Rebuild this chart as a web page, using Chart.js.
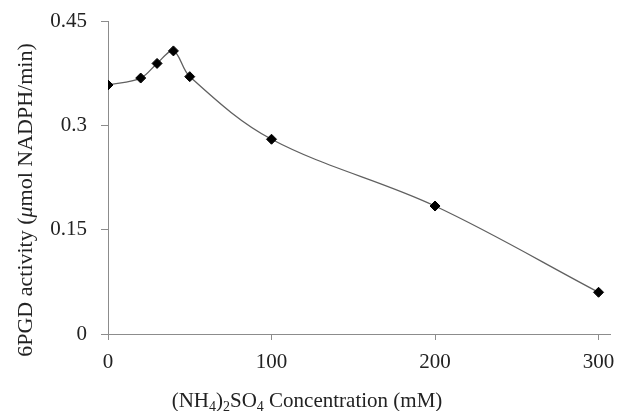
<!DOCTYPE html>
<html>
<head>
<meta charset="utf-8">
<script src="https://cdn.jsdelivr.net/npm/chart.js@4"></script>
<style>
  html, body { margin: 0; padding: 0; background: #fff; }
  #wrap { width: 617px; height: 411px; position: relative; }
</style>
</head>
<body>
<div id="wrap"><canvas id="chart"></canvas></div>
<script>
// Data
const concentration = [0, 20, 30, 40, 50, 100, 200, 300];
const activity = [0.358, 0.368, 0.389, 0.407, 0.370, 0.280, 0.184, 0.060];
const xTicks = [0, 100, 200, 300];
const yTicks = [0, 0.15, 0.3, 0.45];

const serif = "'Liberation Serif', 'Times New Roman', serif";
const axisGray = "#8c8c8c";

// Axis titles drawn by hand so subscripts and the italic mu come out right
const axisTitles = {
  id: "axisTitles",
  afterDraw(chart) {
    const ctx = chart.ctx;
    ctx.save();
    ctx.fillStyle = "#222";
    ctx.textBaseline = "alphabetic";

    // x title: (NH4)2SO4 Concentration (mM)
    const parts = [
      ["(NH", false], ["4", true], [")", false], ["2", true],
      ["SO", false], ["4", true], [" Concentration (mM)", false],
    ];
    const big = "21px " + serif;
    const small = "14px " + serif;
    let total = 0;
    parts.forEach(([t, sub]) => {
      ctx.font = sub ? small : big;
      total += ctx.measureText(t).width;
    });
    let x = 307 - total / 2;
    const baseY = 407;
    parts.forEach(([t, sub]) => {
      ctx.font = sub ? small : big;
      ctx.fillText(t, x, sub ? baseY + 4 : baseY);
      x += ctx.measureText(t).width;
    });

    // y title: 6PGD activity (μmol NADPH/min)
    const yParts = [
      ["6PGD activity (", false], ["\u03bc", true], ["mol NADPH/min)", false],
    ];
    const yFont = "22px " + serif;
    ctx.translate(32, 200);
    ctx.rotate(-Math.PI / 2);
    total = 0;
    yParts.forEach(([t, it]) => {
      ctx.font = (it ? "italic " : "") + yFont;
      total += ctx.measureText(t).width;
    });
    x = -total / 2;
    yParts.forEach(([t, it]) => {
      ctx.font = (it ? "italic " : "") + yFont;
      ctx.fillText(t, x, 0);
      x += ctx.measureText(t).width;
    });
    ctx.restore();
  },
};

new Chart(document.getElementById("chart"), {
  type: "line",
  data: {
    datasets: [
      {
        data: concentration.map((c, i) => ({ x: c, y: activity[i] })),
        borderColor: "#606060",
        borderWidth: 1.3,
        tension: 0.35,
        fill: false,
        pointStyle: "rectRot",
        pointRadius: 5,
        pointBackgroundColor: "#000",
        pointBorderColor: "#000",
        pointBorderWidth: 1,
      },
    ],
  },
  options: {
    responsive: true,
    maintainAspectRatio: false,
    animation: false,
    layout: { padding: { top: 21, right: 7, left: 0, bottom: 0 } },
    plugins: {
      legend: { display: false },
      tooltip: { enabled: false },
    },
    scales: {
      x: {
        type: "linear",
        min: 0,
        max: 307,
        afterBuildTicks: (scale) => {
          scale.ticks = xTicks.map((v) => ({ value: v }));
        },
        afterFit: (scale) => {
          scale.height = 77;
          scale.paddingLeft = 0;
          scale.paddingRight = 0;
        },
        border: { color: axisGray, width: 1 },
        grid: {
          drawOnChartArea: false,
          drawTicks: true,
          tickLength: 6,
          color: axisGray,
        },
        ticks: {
          color: "#222",
          padding: 10,
          maxRotation: 0,
          font: { family: serif, size: 21 },
        },
      },
      y: {
        type: "linear",
        min: 0,
        max: 0.45,
        afterBuildTicks: (scale) => {
          scale.ticks = yTicks.map((v) => ({ value: v }));
        },
        afterFit: (scale) => {
          scale.width = 108;
          scale.paddingTop = 0;
          scale.paddingBottom = 0;
        },
        border: { color: axisGray, width: 1 },
        grid: {
          drawOnChartArea: false,
          drawTicks: true,
          tickLength: 7,
          color: axisGray,
        },
        ticks: {
          color: "#222",
          padding: 14,
          font: { family: serif, size: 21 },
          callback: (v) => String(v),
        },
      },
    },
  },
  plugins: [axisTitles],
});
</script>
</body>
</html>
